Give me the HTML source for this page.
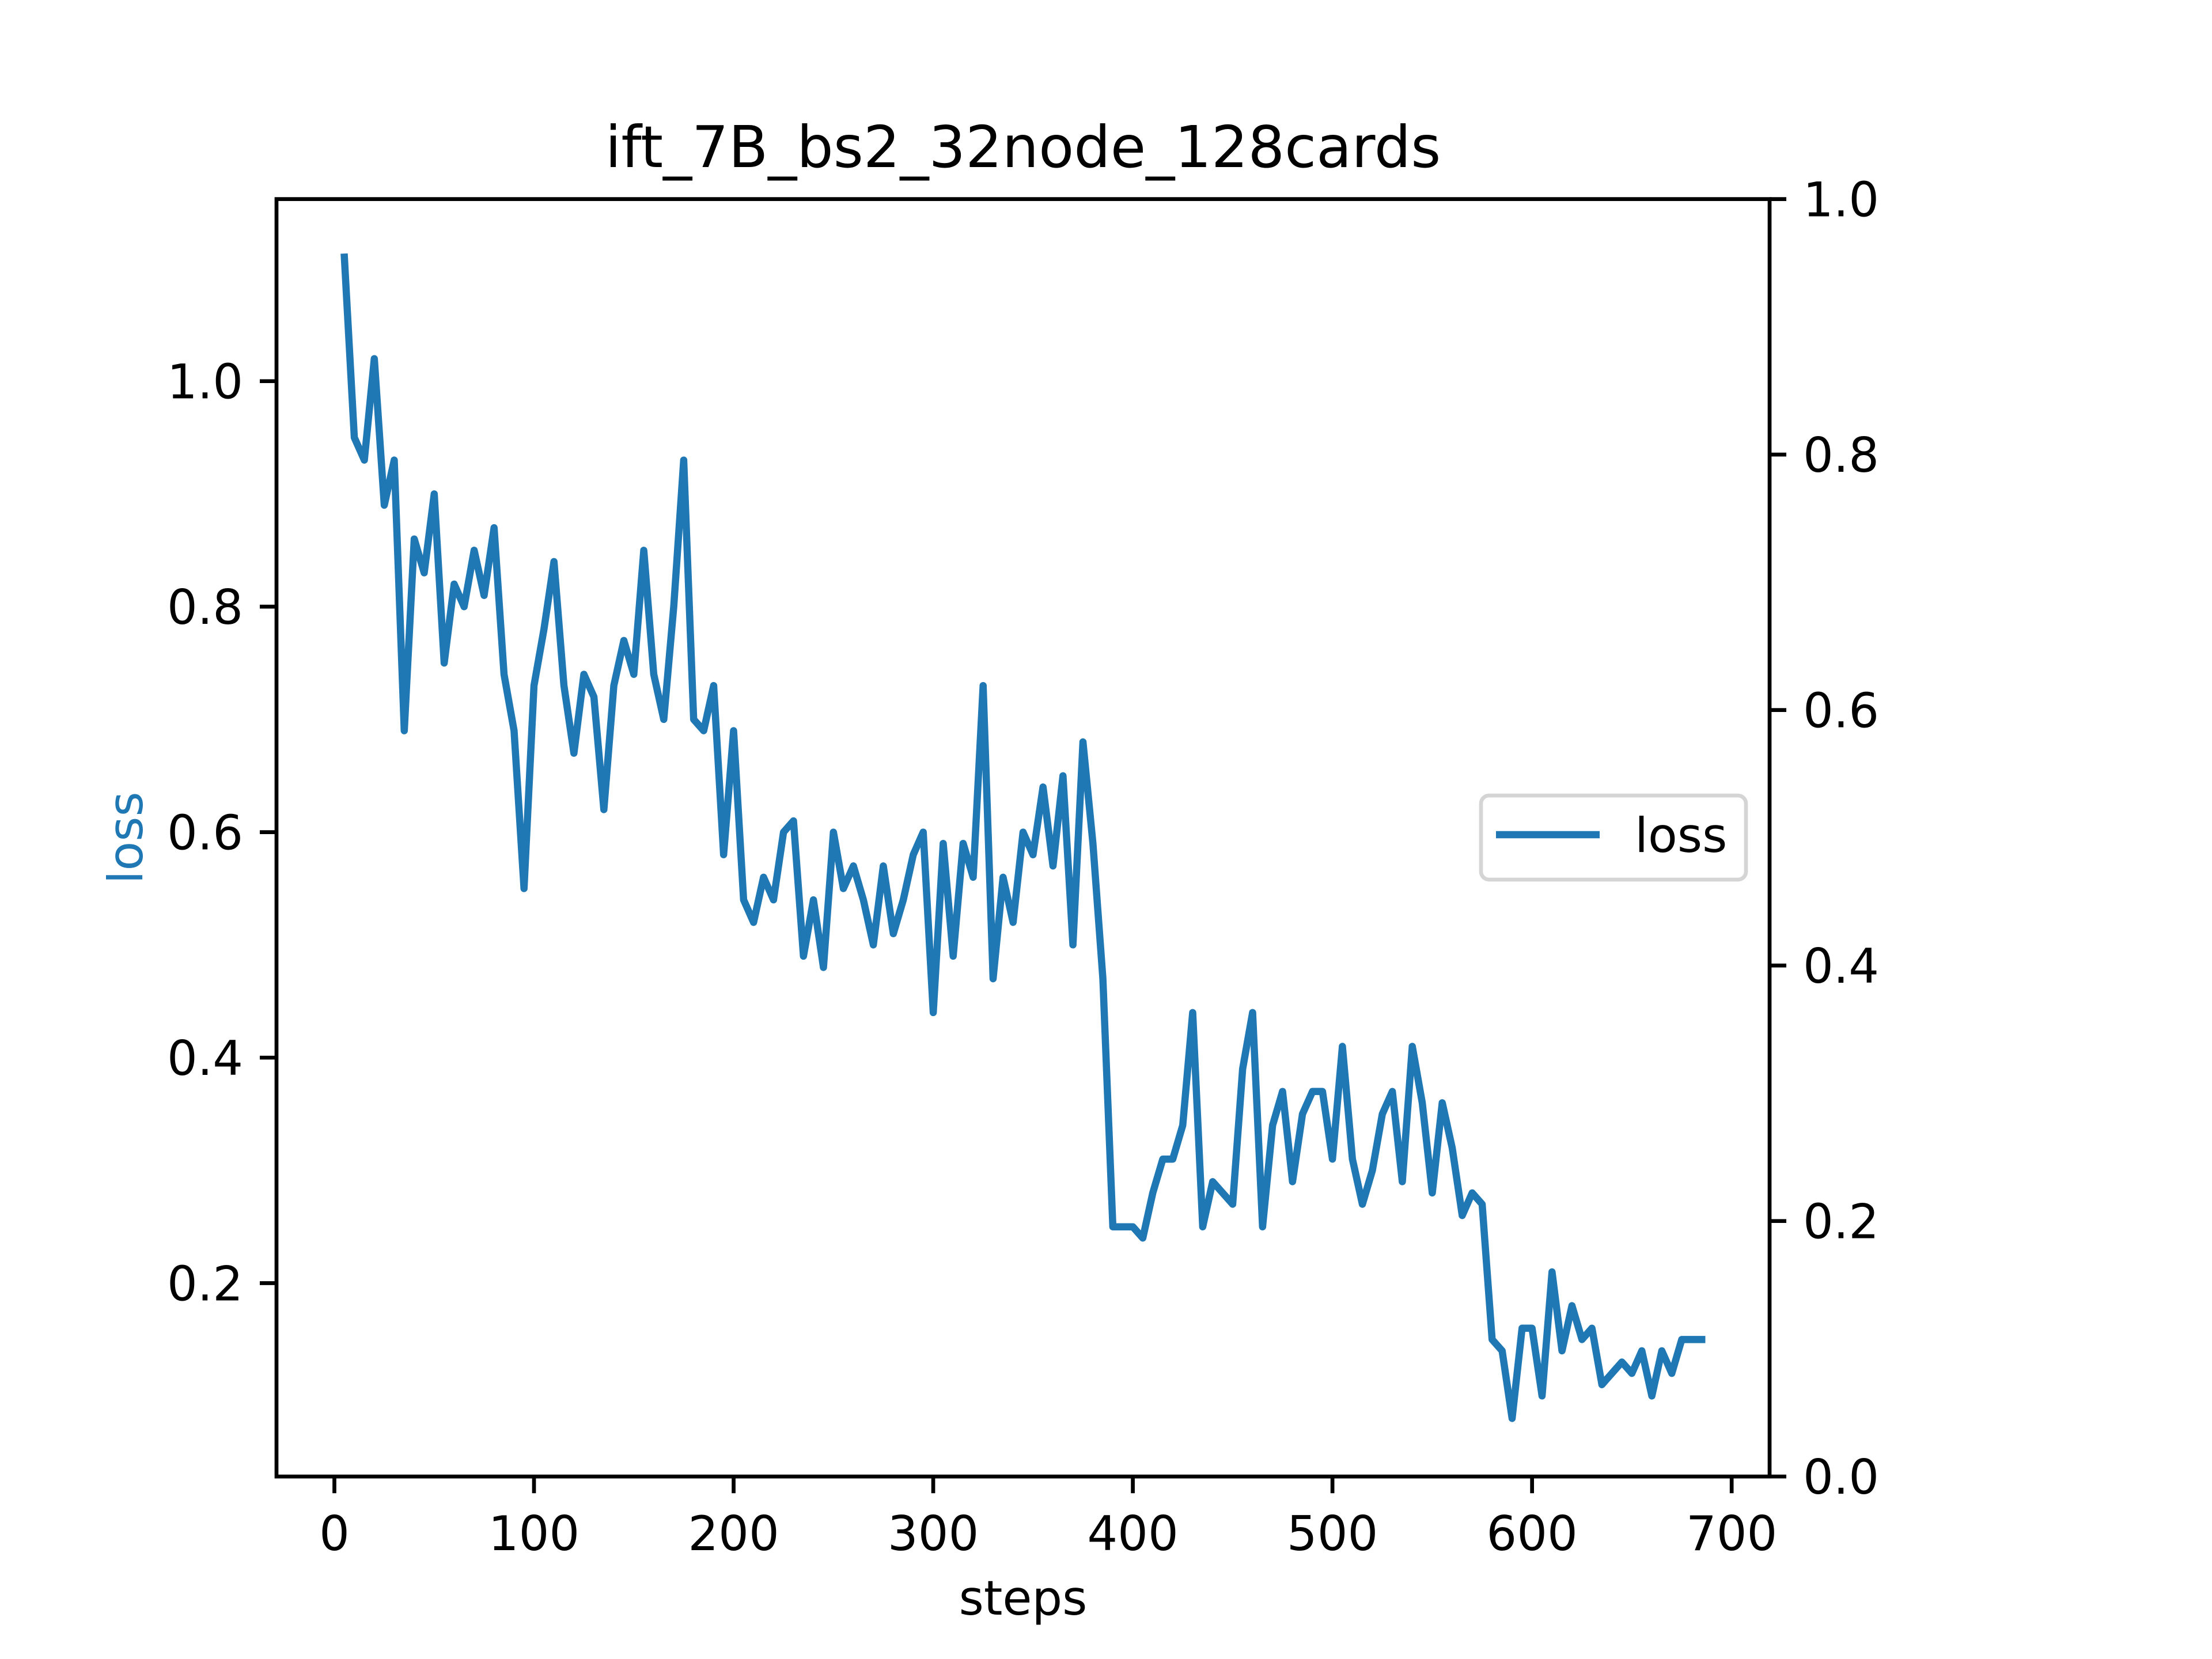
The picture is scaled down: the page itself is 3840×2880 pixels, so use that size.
<!DOCTYPE html>
<html><head><meta charset="utf-8"><style>
html,body{margin:0;padding:0;background:#fff;}
svg{display:block;font-family:"DejaVu Sans","Liberation Sans",sans-serif;}
</style></head><body>
<svg id="chart" width="3840" height="2880" viewBox="0 0 3840 2880">
<rect x="0" y="0" width="3840" height="2880" fill="#fff"/>
<g id="plot"></g>
</svg>
<script>
const steps = [5,10,15,20,25,30,35,40,45,50,55,60,65,70,75,80,85,90,95,100,105,110,115,120,125,130,135,140,145,150,155,160,165,170,175,180,185,190,195,200,205,210,215,220,225,230,235,240,245,250,255,260,265,270,275,280,285,290,295,300,305,310,315,320,325,330,335,340,345,350,355,360,365,370,375,380,385,390,395,400,405,410,415,420,425,430,435,440,445,450,455,460,465,470,475,480,485,490,495,500,505,510,515,520,525,530,535,540,545,550,555,560,565,570,575,580,585,590,595,600,605,610,615,620,625,630,635,640,645,650,655,660,665,670,675,680,685];
const lossValues = [1.11,0.95,0.93,1.02,0.89,0.93,0.69,0.86,0.83,0.90,0.75,0.82,0.80,0.85,0.81,0.87,0.74,0.69,0.55,0.73,0.78,0.84,0.73,0.67,0.74,0.72,0.62,0.73,0.77,0.74,0.85,0.74,0.70,0.80,0.93,0.70,0.69,0.73,0.58,0.69,0.54,0.52,0.56,0.54,0.60,0.61,0.49,0.54,0.48,0.60,0.55,0.57,0.54,0.50,0.57,0.51,0.54,0.58,0.60,0.44,0.59,0.49,0.59,0.56,0.73,0.47,0.56,0.52,0.60,0.58,0.64,0.57,0.65,0.50,0.68,0.59,0.47,0.25,0.25,0.25,0.24,0.28,0.31,0.31,0.34,0.44,0.25,0.29,0.28,0.27,0.39,0.44,0.25,0.34,0.37,0.29,0.35,0.37,0.37,0.31,0.41,0.31,0.27,0.30,0.35,0.37,0.29,0.41,0.36,0.28,0.36,0.32,0.26,0.28,0.27,0.15,0.14,0.08,0.16,0.16,0.10,0.21,0.14,0.18,0.15,0.16,0.11,0.12,0.13,0.12,0.14,0.10,0.14,0.12,0.15,0.15,0.15];
const xTicks = [0,100,200,300,400,500,600,700];
const yTicks = [0.2,0.4,0.6,0.8,1.0];
const yTicksRight = [0.0,0.2,0.4,0.6,0.8,1.0];

const NS = "http://www.w3.org/2000/svg";
const L = 480, R = 3072, T = 345.6, B = 2563.2;
const xmin0 = Math.min(...steps), xmax0 = Math.max(...steps);
const ymin0 = Math.min(...lossValues), ymax0 = Math.max(...lossValues);
const xpad = (xmax0 - xmin0) * 0.05, ypad = (ymax0 - ymin0) * 0.05;
const xlo = xmin0 - xpad, xhi = xmax0 + xpad, ylo = ymin0 - ypad, yhi = ymax0 + ypad;
function sx(v){ return L + (v - xlo) / (xhi - xlo) * (R - L); }
function sy(v){ return B - (v - ylo) / (yhi - ylo) * (B - T); }
function sy2(v){ return B - v * (B - T); }
const g = document.getElementById('plot');
function el(tag, attrs, parent){
  const e = document.createElementNS(NS, tag);
  for (const k in attrs) e.setAttribute(k, attrs[k]);
  (parent || g).appendChild(e);
  return e;
}
function txt(s, x, y, anchor, size, fill, extra){
  const t = el('text', Object.assign({x:x, y:y, 'text-anchor':anchor, 'font-size':size, fill:fill||'#000'}, extra||{}));
  t.textContent = s;
  return t;
}

let d = '';
steps.forEach((s,i)=>{ d += (i?'L':'M') + sx(s).toFixed(1) + ' ' + sy(lossValues[i]).toFixed(1) + ' '; });
const line = el('path', {d:d, fill:'none', stroke:'#1f77b4', 'stroke-width':12.5, 'stroke-linejoin':'round', 'stroke-linecap':'square'});



const frame = el('rect', {x:L, y:T, width:R-L, height:B-T, fill:'none', stroke:'#000', 'stroke-width':6.7});



xTicks.forEach(v=>{
  const x = sx(v);
  el('line', {x1:x, y1:B, x2:x, y2:B+29, stroke:'#000', 'stroke-width':6.7});
  const t = txt(String(v), x, B+29+29+70, 'middle', 83);
  
  
});
yTicks.forEach(v=>{
  const y = sy(v);
  el('line', {x1:L-29, y1:y, x2:L, y2:y, stroke:'#000', 'stroke-width':6.7});
  const t = txt(v.toFixed(1), L-29-29, y+30, 'end', 83);
  
  
});
yTicksRight.forEach(v=>{
  const y = sy2(v);
  el('line', {x1:R, y1:y, x2:R+29, y2:y, stroke:'#000', 'stroke-width':6.7});
  const t = txt(v.toFixed(1), R+29+29, y+30, 'start', 83);
  
  
});

const title = txt('ift_7B_bs2_32node_128cards', (L+R)/2, 290, 'middle', 100);


const xl = txt('steps', (L+R)/2, 2803, 'middle', 83);


const yl = txt('loss', 0, 0, 'middle', 83, '#1f77b4', {transform:'translate(247,'+((T+B)/2)+') rotate(-90)'});



const lg = el('g', {});


el('rect', {x:2571, y:1381, width:460, height:146, rx:14, fill:'#fff', stroke:'#d5d5d5', 'stroke-width':6.7}, lg);
el('line', {x1:2597, y1:1449, x2:2777, y2:1449, stroke:'#1f77b4', 'stroke-width':12.5}, lg);
const lt = el('text', {x:2838, y:1479, 'font-size':83, fill:'#000'}, lg);
lt.textContent = 'loss';


</script>
</body></html>
